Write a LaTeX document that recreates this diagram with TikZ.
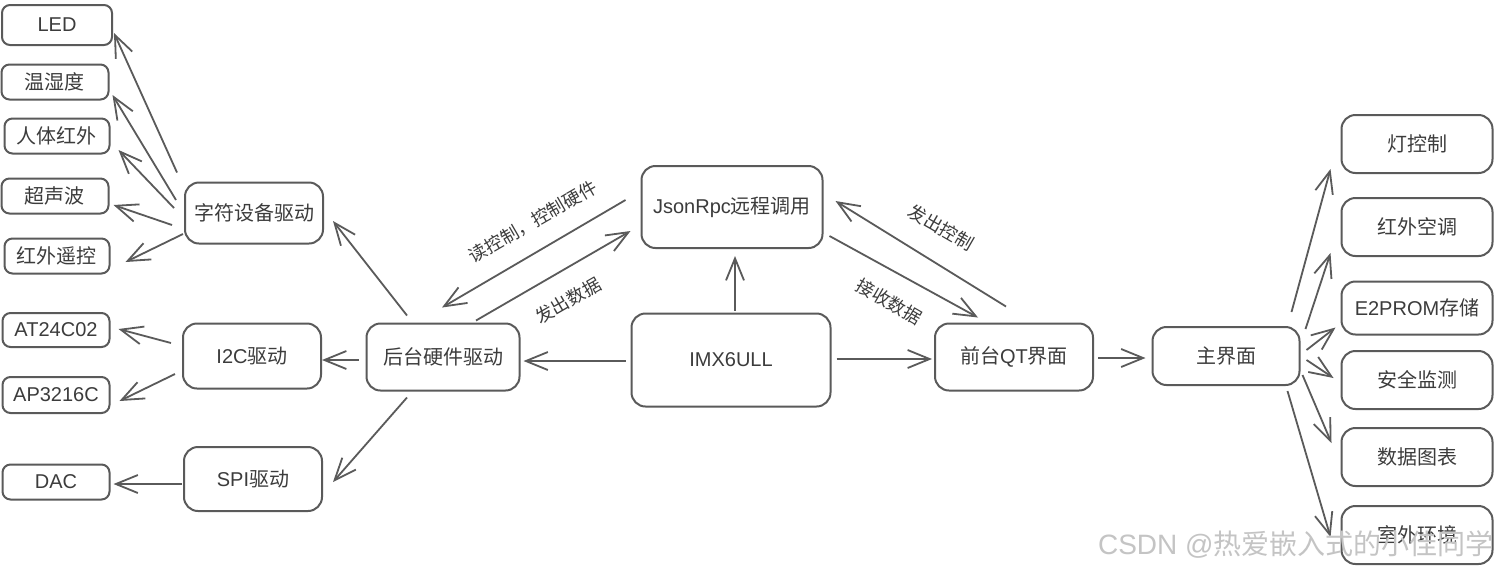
\documentclass[tikz,border=0pt]{standalone}
\usepackage{fontspec}
\setmainfont{Liberation Sans}
\newfontfamily\cjk{Noto Sans CJK SC}
\usetikzlibrary{arrows.meta}
\definecolor{BoxGray}{HTML}{5A5A5A}
\definecolor{TextGray}{HTML}{3C3C3C}
\definecolor{MarkGray}{HTML}{C4C4C4}

\tikzset{
  box/.style={draw=BoxGray, line width=1pt, rounded corners=7pt, text=TextGray, font=\fontsize{10}{12}\selectfont, inner sep=0pt},
  leaf/.style={box, minimum width=53.5pt, minimum height=17.5pt, rounded corners=4pt},
  drv/.style={box, minimum width=69pt, minimum height=32pt},
  func/.style={box, minimum width=75.5pt, minimum height=29pt},
  arr/.style={draw=BoxGray, line width=0.9pt, -{Straight Barb[length=11pt,width=9pt]}},
  lbl/.style={text=TextGray, font=\cjk\fontsize{9}{11}\selectfont, inner sep=0pt},
}

\begin{document}
\begin{tikzpicture}[x=0.5pt, y=-0.5pt]
  \fill[white] (0,0) rectangle (1498,569);
  \useasboundingbox (0,0) rectangle (1498,569);

  % left leaves
  \node[leaf, minimum width=55pt, minimum height=20pt] (led) at (57,25) {LED};
  \node[leaf] (temp) at (55,82) {\cjk 温湿度};
  \node[leaf, minimum width=52.5pt] (pir) at (57,136) {\cjk 人体红外};
  \node[leaf] (sonic) at (55,196) {\cjk 超声波};
  \node[leaf, minimum width=52.5pt] (irrc) at (57,256) {\cjk 红外遥控};
  \node[leaf, minimum height=17pt] (at24) at (56,330) {AT24C02};
  \node[leaf, minimum height=18pt] (ap32) at (56,395) {AP3216C};
  \node[leaf] (dac) at (56,482) {DAC};

  % drivers
  \node[drv, minimum height=30.5pt] (cdev) at (254,213) {\cjk 字符设备驱动};
  \node[drv, minimum height=32.5pt] (i2c) at (252,356) {I2C{\cjk 驱动}};
  \node[drv] (spi) at (253,479) {SPI{\cjk 驱动}};

  % centre
  \node[box, minimum width=76.5pt, minimum height=33.5pt] (hw) at (443,357) {\cjk 后台硬件驱动};
  \node[box, minimum width=90.5pt, minimum height=41pt] (json) at (732,207) {JsonRpc{\cjk 远程调用}};
  \node[box, minimum width=99.5pt, minimum height=46.5pt] (imx) at (731,360) {IMX6ULL};
  \node[box, minimum width=79pt, minimum height=33.5pt] (qt) at (1014,357) {{\cjk 前台}QT{\cjk 界面}};
  \node[box, minimum width=73.5pt, minimum height=29pt] (mainui) at (1226,356) {\cjk 主界面};

  % right
  \node[func] (light) at (1417,144) {\cjk 灯控制};
  \node[func] (ac) at (1417,227) {\cjk 红外空调};
  \node[func, minimum height=26.5pt] (e2) at (1417,308) {E2PROM{\cjk 存储}};
  \node[func] (safe) at (1417,380) {\cjk 安全监测};
  \node[func] (chart) at (1417,457) {\cjk 数据图表};
  \node[func] (outdoor) at (1417,535) {\cjk 室外环境};

  % char device
  \draw[arr] ([shift={(-7,-9)}]cdev.north west) -- ([shift={(1,8)}]led.east);
  \draw[arr] ([shift={(-8,-13)}]cdev.west) -- ([shift={(3,13)}]temp.east);
  \draw[arr] ([shift={(-10,-5)}]cdev.west) -- ([shift={(8,14)}]pir.east);
  \draw[arr] ([shift={(-12,12)}]cdev.west) -- ([shift={(4,9)}]sonic.east);
  \draw[arr] ([shift={(-1,21)}]cdev.west) -- ([shift={(15,6)}]irrc.east);

  % i2c / spi
  \draw[arr] ([shift={(-11,-13)}]i2c.west) -- ([shift={(8,-1)}]at24.east);
  \draw[arr] ([shift={(-7,18)}]i2c.west) -- ([shift={(9,6)}]ap32.east);
  \draw[arr] ([shift={(-1,5)}]spi.west) -- ([shift={(3,2)}]dac.east);

  % backend
  \draw[arr] ([shift={(-36,-7)}]hw.north) -- ([shift={(9,8)}]cdev.east);
  \draw[arr] ([shift={(-7,3)}]hw.west) -- ([shift={(0,4)}]i2c.east);
  \draw[arr] ([shift={(-36,6)}]hw.south) -- ([shift={(10,3)}]spi.east);
  \draw[arr] ([shift={(-15,-7)}]json.west) -- ([shift={(-1,-15)}]hw.north);
  \draw[arr] ([shift={(33,-2)}]hw.north) -- ([shift={(-10,24)}]json.west);

  % imx
  \draw[arr] ([shift={(-5,1)}]imx.west) -- ([shift={(3,4)}]hw.east);
  \draw[arr] ([shift={(4,-2)}]imx.north) -- ([shift={(3,7)}]json.south);
  \draw[arr] ([shift={(5,-1)}]imx.east) -- ([shift={(-2,2)}]qt.west);

  % frontend
  \draw[arr] ([shift={(6,29)}]json.east) -- ([shift={(-36,-5)}]qt.north);
  \draw[arr] ([shift={(-8,-16)}]qt.north) -- ([shift={(12,-6)}]json.east);
  \draw[arr] ([shift={(4,1)}]qt.east) -- ([shift={(-6,2)}]mainui.west);

  % main ui
  \draw[arr] ([shift={(-9,-14)}]mainui.north east) -- ([shift={(-10,-5)}]light.south west);
  \draw[arr] ([shift={(5,3)}]mainui.north east) -- ([shift={(-10,-4)}]ac.south west);
  \draw[arr] ([shift={(6,-6)}]mainui.east) -- ([shift={(-5,-8)}]e2.south west);
  \draw[arr] ([shift={(6,4)}]mainui.east) -- ([shift={(-7,-2)}]safe.west);
  \draw[arr] ([shift={(2,19)}]mainui.east) -- ([shift={(-9,-14)}]chart.west);
  \draw[arr] ([shift={(-13,5)}]mainui.south east) -- ([shift={(-10,2)}]outdoor.west);

  % Labels
  \node[lbl, rotate=30] (readlbl) at (533,222) {读控制，控制硬件};
  \node[lbl, rotate=30] (senddata) at (568,301) {发出数据};
  \node[lbl, rotate=-30] (sendctrl) at (941,228) {发出控制};
  \node[lbl, rotate=-30] (recvdata) at (889,302) {接收数据};

  \node[text=MarkGray, font=\fontsize{14}{16}\selectfont, anchor=east, inner sep=0pt] (mark) at (1494,545) {CSDN @{\cjk 热爱嵌入式的小佳同学}};
\end{tikzpicture}
\end{document}
